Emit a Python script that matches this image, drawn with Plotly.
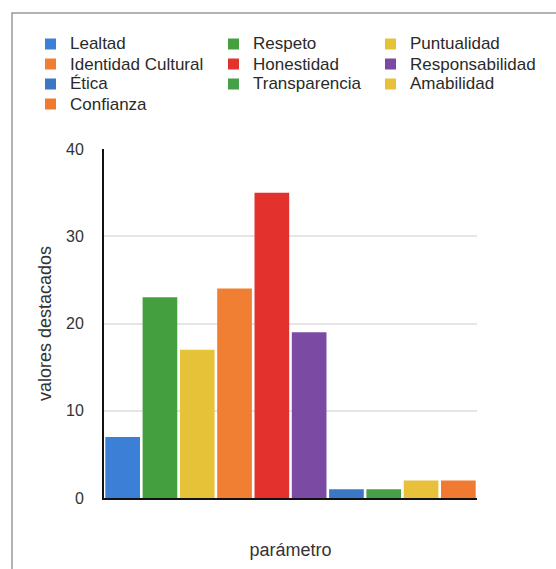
import plotly.graph_objects as go

# Values per parameter, in plotting order
categorias = ["Lealtad", "Respeto", "Puntualidad", "Identidad Cultural", "Honestidad",
              "Responsabilidad", "Ética", "Transparencia", "Amabilidad", "Confianza"]
valores = [7, 23, 17, 24, 35, 19, 1, 1, 2, 2]
colores = ["#3c7fd6", "#44a03f", "#e6c238", "#f07e33", "#e3322d",
           "#7b4aa3", "#3b77c4", "#46a047", "#e8c03a", "#f07a30"]
y_ticks = [0, 10, 20, 30, 40]

FONT = "Liberation Sans, Arial, sans-serif"
TXT = "#333333"

fig = go.Figure()
for cat, val, col in zip(categorias, valores, colores):
    fig.add_trace(go.Bar(
        x=[cat], y=[val], name=cat, showlegend=False,
        marker=dict(color=col, line=dict(width=0)),
        hovertemplate="%{x}: %{y}<extra></extra>",
    ))

W, H = 556, 569
ml, mr, mt, mb = 104, 79, 149, 71
pw, ph = W - ml - mr, H - mt - mb


def px_x(x):
    return (x - ml) / pw


def px_y(y):
    return (H - mb - y) / ph


# Outer frame around the whole chart
shapes = [dict(
    type="rect", xref="paper", yref="paper",
    x0=px_x(12), x1=px_x(W + 10), y0=px_y(H + 10), y1=px_y(13),
    line=dict(color="#9a9a9a", width=1.5), fillcolor="rgba(0,0,0,0)", layer="below",
)]
annotations = []

# Legend laid out in three columns, filled row by row
col_x = [45, 228, 385]
row_y0, row_step, sw = 44, 20, 11
for i, (cat, col) in enumerate(zip(categorias, colores)):
    r, c = divmod(i, 3)
    cx, cy = col_x[c], row_y0 + r * row_step
    shapes.append(dict(
        type="rect", xref="paper", yref="paper",
        x0=px_x(cx), x1=px_x(cx + sw), y0=px_y(cy + sw / 2), y1=px_y(cy - sw / 2),
        line=dict(width=0), fillcolor=col, layer="above",
    ))
    annotations.append(dict(
        text=cat, xref="paper", yref="paper", x=px_x(cx + 23), y=px_y(cy),
        xanchor="left", yanchor="middle", showarrow=False,
        font=dict(family=FONT, size=17, color="#2a2a2a"),
    ))

fig.update_layout(
    width=W, height=H,
    margin=dict(l=ml, r=mr, t=mt, b=mb),
    paper_bgcolor="white", plot_bgcolor="white",
    barmode="overlay", bargap=0.07,
    font=dict(family=FONT, size=16, color=TXT),
    showlegend=False,
    xaxis=dict(
        categoryorder="array", categoryarray=categorias,
        showticklabels=False, ticks="", showgrid=False, zeroline=False,
        showline=True, linecolor="#111111", linewidth=2,
        title=dict(text="parámetro", font=dict(family=FONT, size=18, color=TXT), standoff=44),
    ),
    yaxis=dict(
        range=[0, 40], tickvals=y_ticks, ticktext=[str(t) for t in y_ticks],
        showgrid=True, gridcolor="#e6e6e6", gridwidth=1.5, zeroline=False,
        showline=True, linecolor="#111111", linewidth=2,
        ticks="", ticklabelstandoff=15,
        tickfont=dict(family=FONT, size=16, color=TXT),
        title=dict(text="valores destacados", font=dict(family=FONT, size=18, color=TXT), standoff=10),
    ),
    shapes=shapes,
    annotations=annotations,
)

fig.write_html("out.html")
